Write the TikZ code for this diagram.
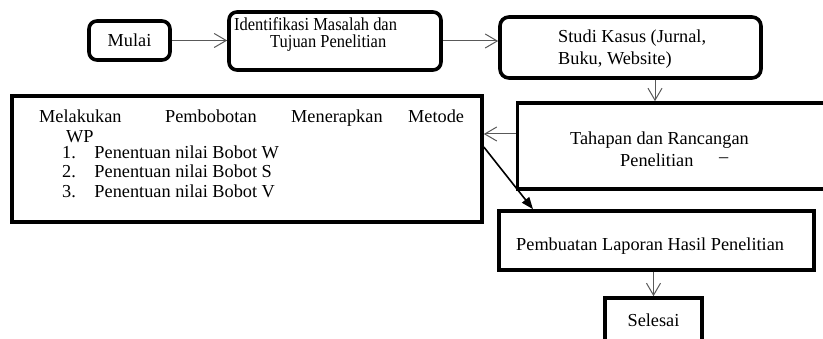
\documentclass[tikz,border=0pt]{standalone}
\usepackage{fontspec}
\setmainfont{Liberation Serif}
\usetikzlibrary{arrows.meta}
\newcommand\diagfs{\fontsize{18.3}{22}\selectfont}
\begin{document}
\begin{tikzpicture}[x=1pt,y=-1pt,
  box/.style={draw=black, line width=3.6pt, inner sep=0pt, font=\diagfs},
  rbox/.style={box, rounded corners=8pt},
  txt/.style={anchor=base west, inner sep=0pt, font=\diagfs},
  arr/.style={draw=black!65, line width=1pt, line join=miter, -{Straight Barb[length=12pt,width=14pt]}},
  darr/.style={draw=black, line width=1.6pt, -{Triangle[length=12pt,width=9pt]}}
]
\useasboundingbox (0,0) rectangle (823,339);
\clip (0,0) rectangle (823,339);

% boxes
\node[rbox, minimum width=81pt, minimum height=39pt] (mulai) at (129.5,40.5) {Mulai};
\node[rbox, minimum width=212pt, minimum height=58pt] (ident) at (335,41) {};
\node[rbox, rounded corners=9pt, minimum width=261pt, minimum height=61pt] (studi) at (630.5,47.5) {};
\node[box, minimum width=470pt, minimum height=126pt] (leftbox) at (247,159) {};
\node[box, minimum width=312.5pt, minimum height=86pt] (tahapan) at (673.75,146) {};
\node[box, minimum width=315pt, minimum height=59pt] (pembuatan) at (656.5,240.5) {};
\node[box, minimum width=97pt, minimum height=44pt] (selesai) at (653.5,320) {Selesai};

% texts
\node[txt] (t-ident1) at (234,31) {\scalebox{0.9}[1]{Identifikasi Masalah dan}};
\node[txt] (t-ident2) at (270,47.5) {\scalebox{0.9}[1]{Tujuan Penelitian}};
\node[txt] (t-studi1) at (558,43) {Studi Kasus (Jurnal,};
\node[txt] (t-studi2) at (558,65) {Buku, Website)};
\node[txt] (t-tah1) at (570,145) {Tahapan dan Rancangan};
\node[txt] (t-tah2) at (620,166.7) {Penelitian};
\node[txt] (t-dash) at (719,163) {–};
\node[txt] (t-lb1) at (39,122.3) {\makebox[126pt][l]{Melakukan}\makebox[126pt][l]{Pembobotan}\makebox[117pt][l]{Menerapkan}Metode};
\node[txt] (t-wp) at (66,142.3) {WP};
\node[txt] (t-i1) at (62,158.3) {\makebox[32.3pt][l]{1.}Penentuan nilai Bobot W};
\node[txt] (t-i2) at (62,177.7) {\makebox[32.3pt][l]{2.}Penentuan nilai Bobot S};
\node[txt] (t-i3) at (62,197.3) {\makebox[32.3pt][l]{3.}Penentuan nilai Bobot V};
\node[txt] (t-pemb) at (516,251) {Pembuatan Laporan Hasil Penelitian};

% connectors
\draw[arr] (mulai.east) -- (mulai.east -| ident.west);
\draw[arr] (ident.east) -- (ident.east -| studi.west);
\draw[arr] (studi.south -| 655,0) -- (tahapan.north -| 655,0);
\draw[arr] (tahapan.west |- 0,134) -- (leftbox.east |- 0,134);
\draw[darr] (leftbox.east |- 0,147) -- (pembuatan.north -| 533,0);
\draw[arr] (pembuatan.south -| selesai.north) -- (selesai.north);
\end{tikzpicture}
\end{document}
